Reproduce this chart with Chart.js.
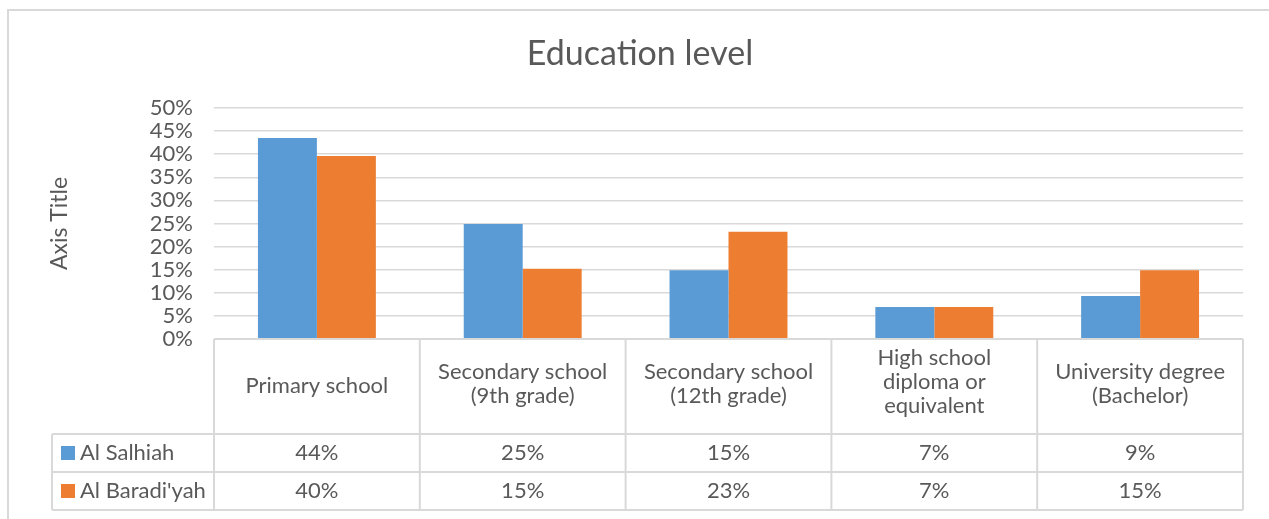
<!DOCTYPE html>
<html>
<head>
<meta charset="utf-8">
<script src="https://cdn.jsdelivr.net/npm/chart.js@4"></script>
<style>
  html, body { margin: 0; padding: 0; background: #fff; }
  #wrap { position: relative; width: 1269px; height: 519px; }
</style>
</head>
<body>
<div id="wrap"><canvas id="eduChart" width="1269" height="519"></canvas></div>
<script>
/* DATA */
const categories = [
    ["Primary school"],
    ["Secondary school", "(9th grade)"],
    ["Secondary school", "(12th grade)"],
    ["High school", "diploma or", "equivalent"],
    ["University degree", "(Bachelor)"]
];
const seriesNames = ["Al Salhiah", "Al Baradi'yah"];
const salhiah = [43.5, 24.9, 14.9, 6.9, 9.3];
const baradiyah = [39.6, 15.2, 23.2, 6.9, 14.9];
const seriesColors = ["#5B9BD5", "#ED7D31"];

const FONT = "Lato, 'Open Sans', sans-serif";
const TEXT = "#595959";
const LINE = "#d9d9d9";

/* =======================
   BORDER + DATA TABLE
======================= */
const dataTable = {
    id: "dataTable",
    afterDraw(chart) {
        const ctx = chart.ctx;
        const area = chart.chartArea;
        const x = chart.scales.x;
        const colW = (area.right - area.left) / categories.length;
        const headBottom = area.bottom + 95;
        const rowH = 38;
        const tableBottom = headBottom + rowH * 2;
        const legendLeft = 52;
        const allSeries = [salhiah, baradiyah];

        ctx.save();

        // outer chart border (top + left only, rest is cropped)
        ctx.strokeStyle = LINE;
        ctx.lineWidth = 2;
        ctx.beginPath();
        ctx.moveTo(8, chart.height);
        ctx.lineTo(8, 10);
        ctx.lineTo(chart.width, 10);
        ctx.stroke();

        // table lines
        ctx.lineWidth = 2;
        ctx.beginPath();
        ctx.moveTo(area.left, area.bottom);
        ctx.lineTo(area.right, area.bottom);
        for (let r = 0; r <= 2; r++) {
            ctx.moveTo(legendLeft, headBottom + r * rowH);
            ctx.lineTo(area.right, headBottom + r * rowH);
        }
        for (let i = 0; i <= categories.length; i++) {
            const cx = area.left + i * colW;
            ctx.moveTo(cx, area.bottom);
            ctx.lineTo(cx, tableBottom);
        }
        ctx.moveTo(legendLeft, headBottom);
        ctx.lineTo(legendLeft, tableBottom);
        ctx.stroke();

        // header labels
        ctx.fillStyle = TEXT;
        ctx.font = "22px " + FONT;
        ctx.textAlign = "center";
        ctx.textBaseline = "middle";
        const headMid = (area.bottom + headBottom) / 2 - 1;
        categories.forEach((lines, i) => {
            const cx = x.getPixelForValue(i);
            const y0 = headMid - (lines.length - 1) * 14;
            lines.forEach((t, j) => ctx.fillText(t, cx, y0 + j * 24));
        });

        // series rows
        allSeries.forEach((vals, r) => {
            const cy = headBottom + r * rowH + rowH / 2;
            ctx.fillStyle = seriesColors[r];
            ctx.fillRect(61, cy - 7, 14, 14);
            ctx.fillStyle = TEXT;
            ctx.textAlign = "left";
            ctx.fillText(seriesNames[r], 80, cy);
            ctx.textAlign = "center";
            vals.forEach((v, i) => {
                ctx.fillText(Math.round(v) + "%", x.getPixelForValue(i), cy);
            });
        });

        ctx.restore();
    }
};

/* =======================
   CHART
======================= */
new Chart(document.getElementById("eduChart"), {
    type: "bar",
    data: {
        labels: categories,
        datasets: [
            { label: seriesNames[0], data: salhiah, backgroundColor: seriesColors[0] },
            { label: seriesNames[1], data: baradiyah, backgroundColor: seriesColors[1] }
        ]
    },
    options: {
        responsive: false,
        animation: false,
        datasets: {
            bar: { categoryPercentage: 0.573, barPercentage: 1.0 }
        },
        layout: { padding: { left: 11, right: 0, top: 0, bottom: 180 } },
        plugins: {
            legend: { display: false },
            tooltip: { enabled: false },
            title: {
                display: true,
                text: "Education level",
                color: TEXT,
                font: { family: FONT, size: 34, weight: "normal", lineHeight: 1.2 },
                padding: { top: 33.6, bottom: 33.6 }
            }
        },
        scales: {
            x: { display: false },
            y: {
                min: 0,
                max: 50,
                border: { display: false },
                grid: { color: LINE, lineWidth: 1.5, drawTicks: false },
                ticks: {
                    stepSize: 5,
                    autoSkip: false,
                    padding: 21,
                    color: TEXT,
                    font: { family: FONT, size: 22, lineHeight: 1 },
                    callback: v => v + "%"
                },
                title: {
                    display: true,
                    text: "Axis Title",
                    color: TEXT,
                    font: { family: FONT, size: 23, lineHeight: 1.2 },
                    padding: { top: 35, bottom: 0 }
                },
                afterFit: s => { s.width = 203; }
            },
            // empty right margin so the title centres on the whole canvas
            spacer: {
                position: "right",
                display: true,
                border: { display: false },
                grid: { display: false },
                ticks: { display: false },
                afterFit: s => { s.width = 26; }
            }
        }
    },
    plugins: [dataTable]
});
</script>
</body>
</html>
